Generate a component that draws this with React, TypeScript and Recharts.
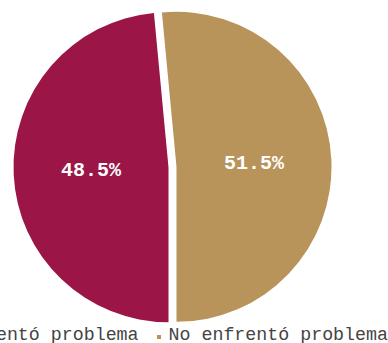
import { PieChart, Pie, Cell, Legend, Sector } from "recharts"

const categories = ["Enfrentó problema", "No enfrentó problema"]
const shares = [48.5, 51.5]
const colors = ["#9b1547", "#b8935a"]

const data = categories.map((name, i) => ({ name, value: shares[i] }))

const RAD = Math.PI / 180
const PULL = 4
const mono = "'Liberation Mono', 'DejaVu Sans Mono', monospace"

const PulledSlice = (props: any) => {
  const { cx, cy, midAngle } = props
  const dx = PULL * Math.cos(-midAngle * RAD)
  const dy = PULL * Math.sin(-midAngle * RAD)
  return <Sector {...props} cx={cx + dx} cy={cy + dy} />
}

const renderLabel = (props: any) => {
  const { cx, cy, midAngle, outerRadius, value } = props
  const r = PULL + outerRadius * 0.5
  const x = cx + r * Math.cos(-midAngle * RAD)
  const y = cy + r * Math.sin(-midAngle * RAD)
  return (
    <text
      x={x}
      y={y}
      fill="#fff"
      textAnchor="middle"
      dominantBaseline="central"
      fontFamily={mono}
      fontWeight="bold"
      fontSize={20}
    >
      {value.toFixed(1)}%
    </text>
  )
}

const LegendRow = () => (
  <div
    style={{
      display: "flex",
      justifyContent: "center",
      whiteSpace: "nowrap",
      fontFamily: mono,
      fontSize: 18.3,
      lineHeight: "18px",
      color: "#444",
    }}
  >
    {categories.map((c, i) => (
      <span key={c} style={{ display: "inline-flex", alignItems: "center", marginLeft: i ? 18 : 0 }}>
        <span style={{ width: 4, height: 4, background: colors[i], marginRight: 8, marginTop: 3 }} />
        {c}
      </span>
    ))}
  </div>
)

export default function App() {
  return (
    <div style={{ position: "absolute", left: 0, top: 0, background: "#fff" }}>
      <PieChart width={388} height={343} margin={{ top: 0, right: 0, bottom: 0, left: 0 }}>
        <Pie
          data={data}
          dataKey="value"
          nameKey="name"
          cx={172.5}
          cy={167}
          outerRadius={155}
          startAngle={-90}
          endAngle={-450}
          stroke="none"
          shape={PulledSlice}
          label={renderLabel}
          labelLine={false}
          isAnimationActive={false}
        >
          {data.map((d, i) => (
            <Cell key={d.name} fill={colors[i]} />
          ))}
        </Pie>
        <Legend
          verticalAlign="bottom"
          content={() => <LegendRow />}
          wrapperStyle={{ left: -30, width: 388, top: 326, bottom: "auto" }}
        />
      </PieChart>
    </div>
  )
}
